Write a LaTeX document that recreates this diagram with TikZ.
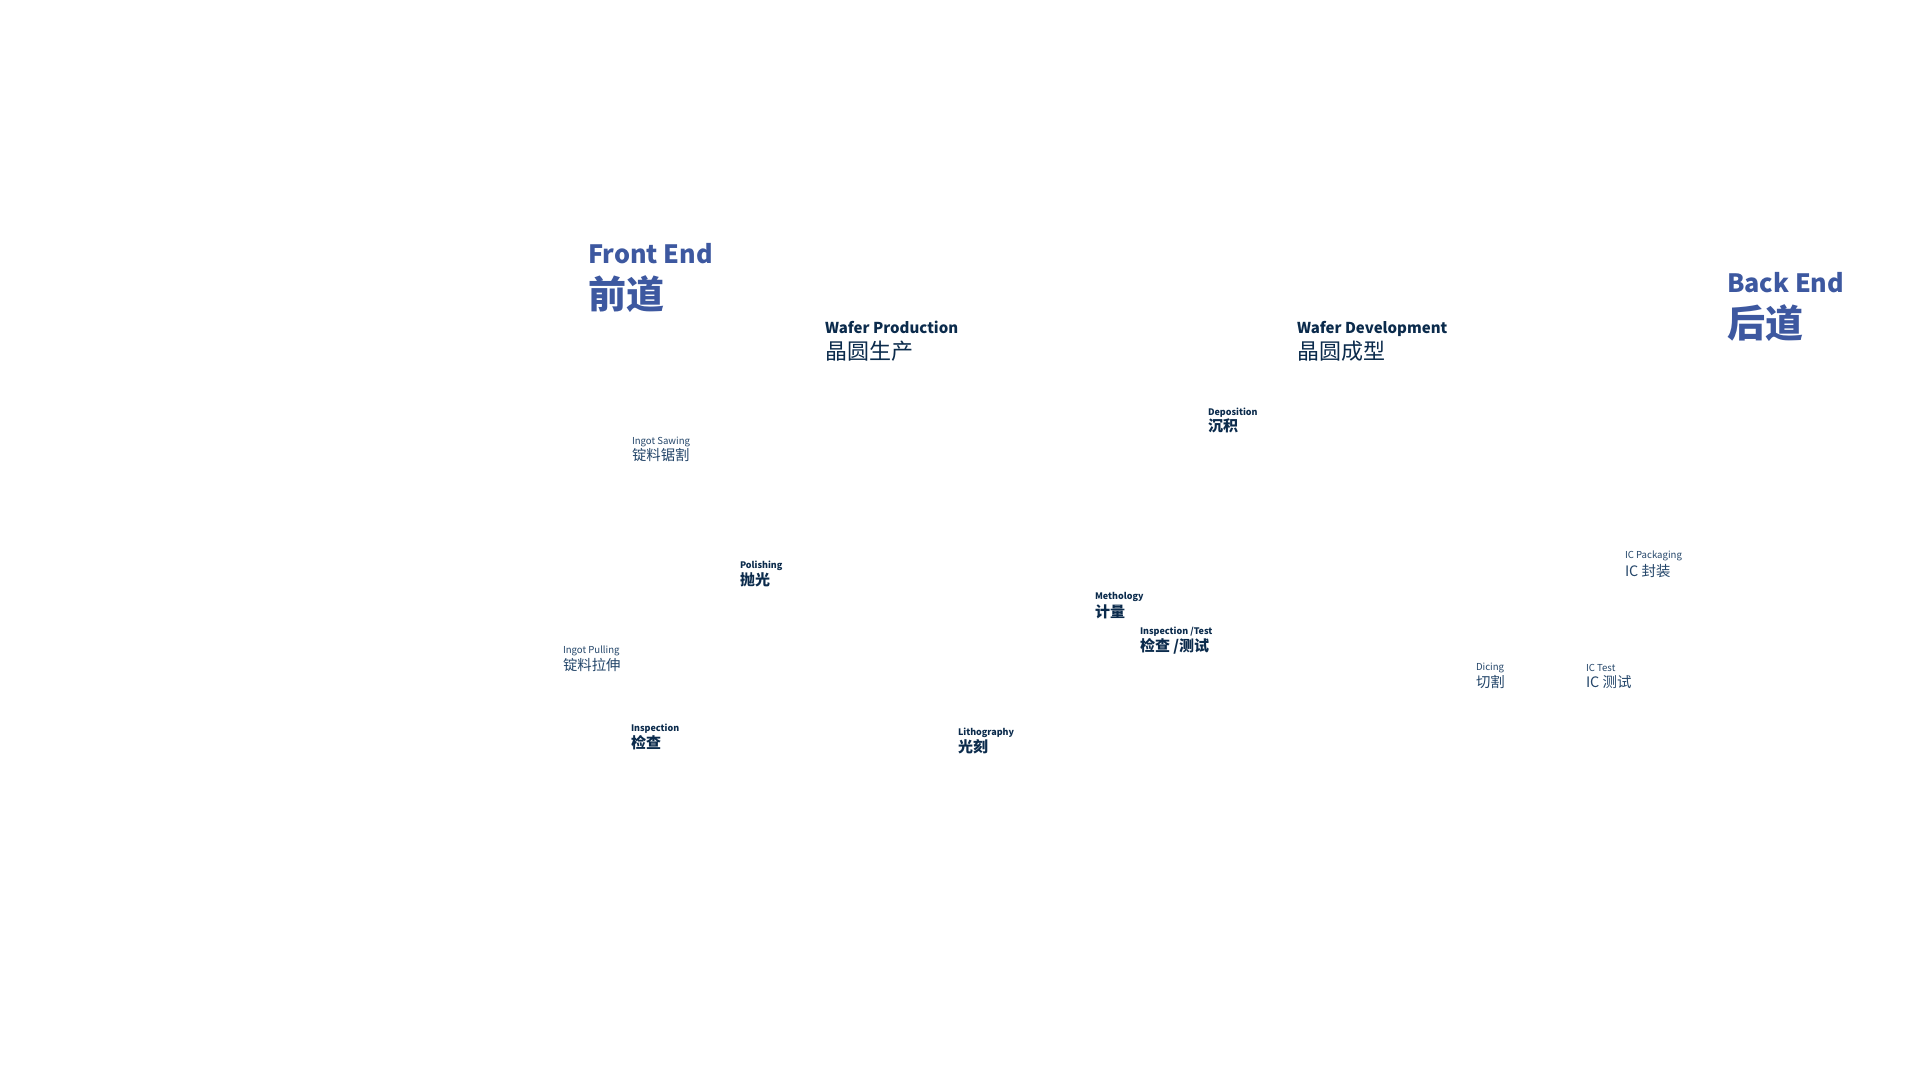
\documentclass[tikz,border=0pt]{standalone}
\usepackage{fontspec}
\setmainfont{Noto Sans CJK SC}
\newfontfamily\cjk{Noto Sans CJK SC}
\definecolor{titleblue}{HTML}{3D58A0}
\definecolor{navy}{HTML}{0B2B4C}
\definecolor{steel}{HTML}{24466A}
\tikzset{
  every node/.style={inner sep=0pt, outer sep=0pt, anchor=base west},
  bigen/.style={font=\fontsize{25.2}{25.2}\selectfont\bfseries, text=titleblue},
  bigzh/.style={font=\fontsize{38}{38}\selectfont\bfseries, text=titleblue},
  miden/.style={font=\fontsize{15}{15}\selectfont\bfseries, text=navy},
  midzh/.style={font=\fontsize{22}{22}\selectfont, text=navy},
  smen/.style={font=\fontsize{9}{9}\selectfont\bfseries, text=navy},
  smzh/.style={font=\fontsize{15}{15}\selectfont\bfseries, text=navy},
  lten/.style={font=\fontsize{9.6}{9.6}\selectfont, text=steel},
  ltzh/.style={font=\fontsize{14.4}{14.4}\selectfont, text=steel},
}
\begin{document}
\begin{tikzpicture}[x=1pt,y=-1pt]
\useasboundingbox[fill=white] (0,0) rectangle (1920,1080);
% titles
\node[bigen] (fe) at (588,263) {Front End};
\node[bigzh] (fezh) at (588,308) {前道};
\node[bigen] (be) at (1727,292) {Back End};
\node[bigzh] (bezh) at (1727,337) {后道};
% section headings
\node[miden] (wp) at (825,333) {Wafer Production};
\node[midzh] (wpzh) at (825,359) {晶圆生产};
\node[miden] (wd) at (1297,333) {Wafer Development};
\node[midzh] (wdzh) at (1297,359) {晶圆成型};
% front-end steps
\node[lten] (is) at (632,444) {Ingot Sawing};
\node[ltzh] (iszh) at (632,460.5) {锭料锯割};
\node[smen] (po) at (740,568) {Polishing};
\node[smzh] (pozh) at (740,585.5) {抛光};
\node[lten] (ip) at (563,653) {Ingot Pulling};
\node[ltzh] (ipzh) at (563,670.5) {锭料拉伸};
\node[smen] (in) at (631,731) {Inspection};
\node[smzh] (inzh) at (631,748.5) {检查};
\node[smen] (li) at (958,735) {Lithography};
\node[smzh] (lizh) at (958,752.5) {光刻};
\node[smen] (de) at (1208,415) {Deposition};
\node[smzh] (dezh) at (1208,431.5) {沉积};
\node[smen] (me) at (1095,599) {Methology};
\node[smzh] (mezh) at (1095,617.5) {计量};
\node[smen] (it) at (1140,634) {Inspection /Test};
\node[smzh] (itzh) at (1140,651.5) {检查 /测试};
% back-end steps
\node[lten] (icp) at (1625,558) {IC Packaging};
\node[ltzh] (icpzh) at (1625,576.5) {IC 封装};
\node[lten] (di) at (1476,670) {Dicing};
\node[ltzh] (dizh) at (1476,687.5) {切割};
\node[lten] (ict) at (1586,671) {IC Test};
\node[ltzh] (ictzh) at (1586,687.5) {IC 测试};
\end{tikzpicture}
\end{document}
